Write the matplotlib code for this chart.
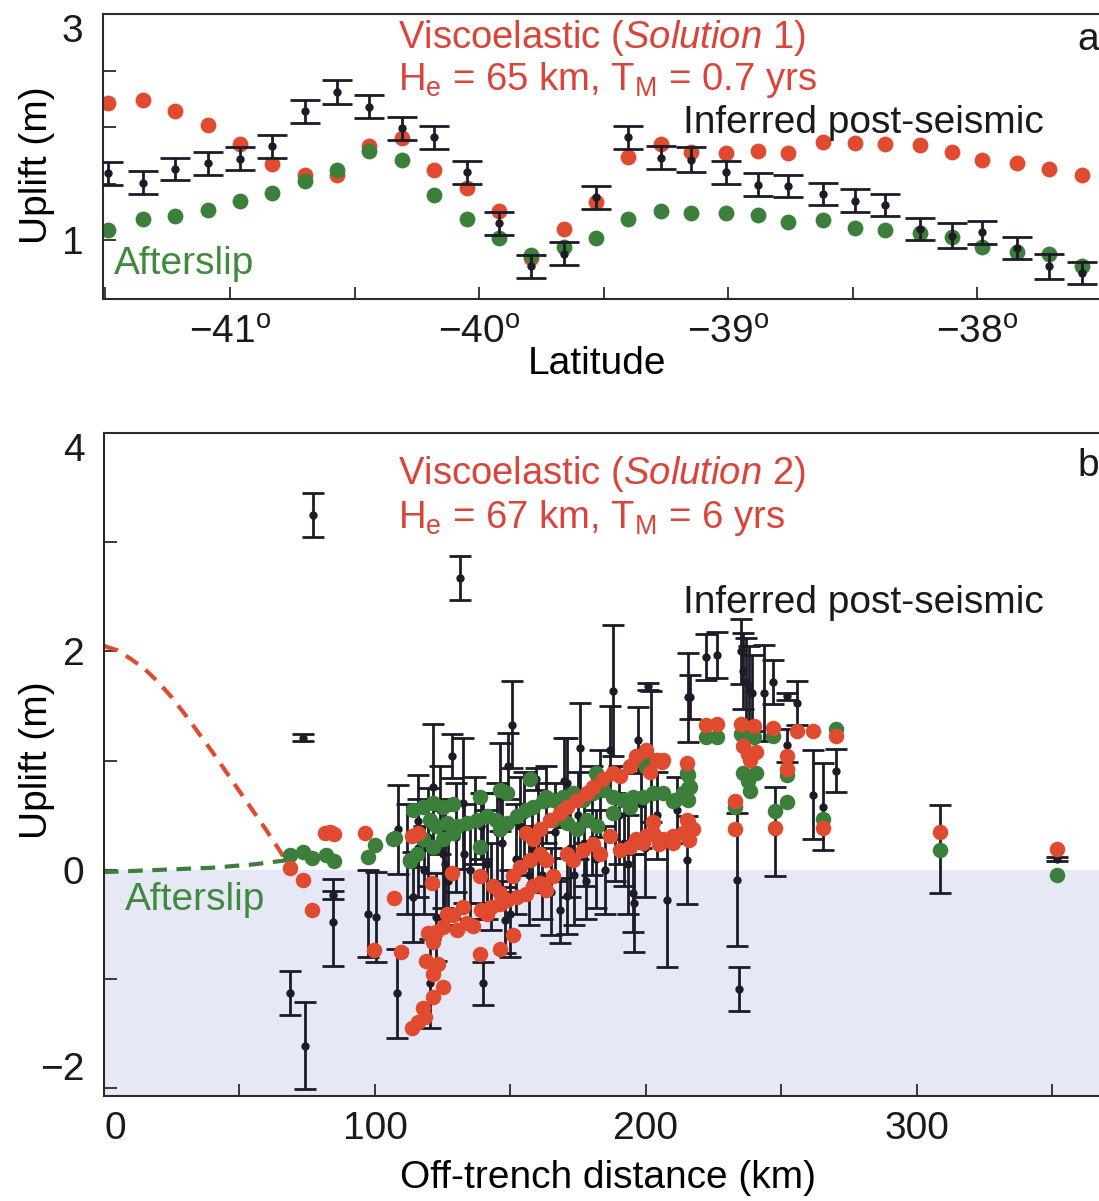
import numpy as np
import matplotlib
import matplotlib.pyplot as plt
from matplotlib import font_manager

# fonts: narrow Helvetica look if available
names = {f.name for f in font_manager.fontManager.ttflist}
fam = 'Liberation Sans Narrow' if 'Liberation Sans Narrow' in names else 'Liberation Sans'
plt.rcParams['font.family'] = [fam, 'DejaVu Sans']
plt.rcParams['mathtext.fontset'] = 'custom'
plt.rcParams['mathtext.rm'] = fam
plt.rcParams['mathtext.it'] = fam + ':italic'

RED = '#e04a2f'
GREEN = '#3b7f3a'
BLACK = '#1c1c28'
TRED = '#d9453a'
TGREEN = '#3f8a3c'

# ---------------- panel a data ----------------
lat = [-41.49, -41.35, -41.22, -41.09, -40.96, -40.83, -40.70, -40.57, -40.44, -40.31,
       -40.18, -40.05, -39.92, -39.79, -39.66, -39.53, -39.40, -39.27, -39.15, -39.01,
       -38.88, -38.76, -38.62, -38.49, -38.37, -38.23, -38.10, -37.98, -37.84, -37.71, -37.58]
visco_a = [2.21, 2.24, 2.14, 2.02, 1.85, 1.67, 1.58, 1.58, 1.83, 1.90,
           1.62, 1.46, 1.26, 0.84, 1.10, 1.34, 1.74, 1.85, 1.78, 1.77,
           1.79, 1.77, 1.87, 1.86, 1.85, 1.84, 1.78, 1.71, 1.68, 1.63, 1.58]
after_a = [1.09, 1.19, 1.21, 1.27, 1.35, 1.42, 1.52, 1.62, 1.79, 1.71,
           1.40, 1.19, 1.02, 0.87, 0.94, 1.02, 1.19, 1.26, 1.24, 1.24,
           1.22, 1.16, 1.18, 1.11, 1.09, 1.06, 1.03, 0.94, 0.90, 0.88, 0.77]
obs_a = [1.59, 1.51, 1.63, 1.68, 1.72, 1.83, 2.14, 2.31, 2.18, 1.99,
         1.91, 1.60, 1.15, 0.77, 0.88, 1.38, 1.91, 1.73, 1.71, 1.60,
         1.49, 1.48, 1.41, 1.35, 1.31, 1.10, 1.04, 1.07, 0.93, 0.77, 0.71]
err_a = [0.10, 0.10, 0.10, 0.10, 0.10, 0.10, 0.10, 0.11, 0.10, 0.10,
         0.10, 0.10, 0.10, 0.10, 0.10, 0.10, 0.10, 0.10, 0.11, 0.10,
         0.10, 0.10, 0.10, 0.10, 0.10, 0.10, 0.11, 0.10, 0.10, 0.11, 0.10]

# ---------------- panel b data ----------------
visco_km = [68.6, 73.4, 76.8, 81.5, 83.5, 85.0, 96.5, 99.5, 107.0, 109.5, 113.5, 116.0, 120.9, 128.3,
            138.7, 138.7, 146.1, 151.0, 163.3,
            113.5, 116.0, 118.4, 117.8, 121.5, 125.2, 119.0, 123.3, 121.5, 119.7, 122.7, 121.5, 125.2,
            126.4, 128.9, 130.1, 132.6, 133.8, 136.3, 139.3, 141.2, 143.0, 146.1, 148.6, 152.3, 155.9,
            158.4, 160.9, 163.3, 165.8, 143.6, 146.1, 151.0, 153.5, 157.2, 160.9, 158.4, 155.9, 160.9,
            164.5, 168.2, 170.7, 174.4, 178.1, 180.5, 184.2, 187.9, 190.4, 194.1, 196.5, 200.2, 203.9,
            201.5, 206.4,
            170.7, 173.2, 176.9, 180.5, 183.0, 186.7, 190.4, 194.1, 196.5, 200.2, 202.7, 206.4, 210.1,
            213.8, 217.4, 215.0, 215.0,
            205.8, 215.5, 202.7, 199.0, 205.0, 210.0, 216.0, 222.0, 226.4, 235.0, 240.0, 247.0, 255.6,
            261.6, 270.0, 236.0, 237.5, 238.5, 240.6, 233.0, 233.0, 247.6, 252.0, 252.0, 265.4, 308.5, 351.7]
visco_up = [0.02, -0.09, -0.37, 0.34, 0.35, 0.33, 0.34, -0.73, -0.26, -0.75, 0.31, 0.34, -0.12, -0.03,
            -0.06, -0.77, -0.72, -0.60, 0.09,
            -1.45, -1.39, -1.35, -1.26, -1.16, -1.07, -0.83, -0.86, -0.95, -0.58, -0.57, -0.66, -0.52,
            -0.40, -0.41, -0.55, -0.34, -0.49, -0.51, -0.37, -0.40, -0.34, -0.31, -0.28, -0.25, -0.22,
            -0.15, -0.12, -0.18, -0.06, -0.15, -0.21, -0.06, 0.03, 0.09, 0.15, 0.28, 0.34, 0.37,
            0.46, 0.52, 0.58, 0.64, 0.70, 0.76, 0.83, 0.89, 0.86, 0.95, 1.04, 1.10, 1.01,
            0.90, 1.01,
            0.15, 0.09, 0.18, 0.24, 0.15, 0.31, 0.18, 0.21, 0.28, 0.31, 0.34, 0.28, 0.31,
            0.34, 0.37, 0.46, 0.98,
            0.99, 0.44, 0.44, 0.25, 0.24, 0.25, 0.27, 1.33, 1.34, 1.34, 1.32, 1.30, 1.27,
            1.27, 1.23, 1.13, 1.06, 1.01, 1.08, 0.63, 0.37, 0.38, 1.04, 0.92, 0.38, 0.35, 0.19]

after_km = [68.8, 73.4, 76.6, 82.0, 85.0, 97.4, 100.0, 107.4, 113.0,
            114.1, 117.8, 121.5, 125.2, 128.9, 120.3, 122.7, 126.4, 130.1, 133.8, 137.5, 141.2, 144.8,
            148.6, 152.3, 155.9, 158.4, 162.1, 165.8, 169.5, 173.2, 176.9, 180.5, 184.2, 187.9, 191.6,
            195.3, 199.0, 202.7, 206.4, 210.1, 213.8, 216.2, 215.0, 117.8, 121.5, 125.2, 128.9, 138.7,
            146.1, 165.8, 170.7, 174.4, 178.1, 182.0, 188.0, 194.0, 196.5, 200.2, 138.7, 146.1, 148.6,
            157.2, 163.3, 181.7, 200.2, 112.9, 115.4, 106.7,
            215.5, 215.5, 215.5, 210.7, 222.0, 226.4, 235.0, 240.0, 247.0, 270.0, 236.0, 237.5, 238.5,
            240.6, 233.0, 247.6, 252.0, 252.0, 265.4, 308.5, 351.7]
after_up = [0.14, 0.16, 0.11, 0.14, 0.08, 0.12, 0.23, 0.29, 0.08,
            0.55, 0.58, 0.61, 0.58, 0.60, 0.46, 0.40, 0.43, 0.40, 0.43, 0.46, 0.49, 0.46,
            0.43, 0.49, 0.55, 0.58, 0.63, 0.64, 0.67, 0.70, 0.64, 0.70, 0.73, 0.67, 0.64,
            0.67, 0.67, 0.70, 0.70, 0.63, 0.70, 0.76, 0.89, 0.28, 0.21, 0.28, 0.34, 0.21,
            0.37, 0.46, 0.43, 0.37, 0.46, 0.40, 0.52, 0.58, 1.01, 1.07, 0.67, 0.73, 0.70,
            0.83, 0.67, 0.89, 0.94, 0.09, 0.15, 0.28,
            0.87, 0.75, 0.64, 0.64, 1.22, 1.22, 1.24, 1.22, 1.23, 1.29, 0.89, 0.81, 0.72,
            0.89, 0.58, 0.54, 0.62, 0.87, 0.47, 0.18, -0.05]

obs_km = [73.4, 77.1, 131.4, 68.6, 74.2, 84.5, 84.5, 97.4, 100.4, 108.0, 140.0, 120.3,
          108.6, 114.1, 121.5, 122.7, 128.3, 132.6, 146.1, 149.2, 150.4, 148.0, 149.8, 159.6,
          170.7, 175.6, 168.2, 170.7, 186.7, 187.9, 197.1, 200.8, 195.3, 207.6, 215.6, 215.0,
          211.3, 202.0, 169.7,
          112.0, 116.0, 118.0, 125.0, 127.0, 130.0, 135.0, 137.0, 140.0, 143.0, 145.0, 152.0,
          155.0, 157.0, 160.0, 163.0, 165.0, 172.0, 175.0, 178.0, 180.0, 183.0, 185.0, 190.0,
          192.0, 198.0, 204.0,
          116.0, 119.5, 124.0, 126.0, 133.0, 139.0, 141.5, 147.0, 153.5, 158.0, 161.5, 166.5,
          173.5, 177.0, 181.5, 188.5, 193.5, 199.5,
          216.2, 222.0, 226.4, 235.0, 236.0, 237.0, 238.0, 239.0, 243.5, 247.0, 252.0, 255.6,
          252.0, 261.5, 265.4, 270.0, 247.6, 233.6, 234.3, 308.5, 351.7, 195.6]
obs_up = [1.21, 3.25, 2.67, -1.13, -1.61, -0.48, -0.23, -0.40, -0.43, -1.13, -1.04, -1.04,
          0.37, -0.25, 0.76, -0.43, 1.04, 0.61, 0.76, 0.95, 1.33, -0.46, -0.40, 0.83,
          0.80, 1.12, -0.37, -0.24, 1.10, 1.64, 1.19, 1.68, -0.21, -0.28, 1.58, 0.09,
          0.55, 1.04, 0.81,
          0.10, 0.20, 0.00, 0.15, -0.10, 0.30, 0.00, 0.45, 0.20, -0.15, 0.35, 0.10,
          0.50, -0.05, 0.30, 0.60, -0.20, 0.20, 0.50, -0.10, 0.45, 0.70, 0.00, 0.50,
          0.25, 0.60, 0.50,
          0.45, 0.30, 0.55, 0.05, 0.15, 0.40, 0.05, 0.25, 0.40, 0.20, -0.05, 0.35,
          -0.05, 0.25, 0.10, 0.30, 0.05, 0.20,
          1.58, 1.95, 1.97, 2.00, 1.82, 1.72, 1.65, 1.62, 1.62, 1.72, 1.59, 1.53,
          1.14, 0.69, 0.58, 0.91, 0.35, -0.09, -1.09, 0.19, 0.10, -0.30]
obs_err = [0.03, 0.20, 0.20, 0.20, 0.40, 0.40, 0.04, 0.40, 0.41, 0.41, 0.20, 0.41,
           0.41, 0.41, 0.58, 0.40, 0.20, 0.60, 0.40, 0.30, 0.40, 0.30, 0.40, 0.10,
           0.41, 0.41, 0.30, 0.35, 0.40, 0.60, 0.30, 0.03, 0.36, 0.61, 0.41, 0.40,
           0.30, 0.60, 0.40,
           0.50, 0.45, 0.40, 0.50, 0.40, 0.50, 0.45, 0.40, 0.50, 0.40, 0.45, 0.50,
           0.40, 0.45, 0.50, 0.35, 0.40, 0.45, 0.40, 0.35, 0.50, 0.40, 0.40, 0.45,
           0.40, 0.40, 0.40,
           0.42, 0.45, 0.40, 0.50, 0.45, 0.30, 0.50, 0.45, 0.45, 0.40, 0.40, 0.45,
           0.45, 0.40, 0.45, 0.40, 0.45, 0.45,
           0.20, 0.21, 0.21, 0.30, 0.35, 0.40, 0.40, 0.35, 0.44, 0.20, 0.03, 0.20,
           0.15, 0.41, 0.40, 0.20, 0.41, 0.61, 0.20, 0.40, 0.02, 0.45]

# model curves near the trench (dashed)
visco_curve_km = [0, 5, 10, 15, 20, 25, 30, 35, 40, 45, 50, 55, 60, 65, 68]
visco_curve_up = [2.05, 2.01, 1.93, 1.84, 1.72, 1.58, 1.42, 1.25, 1.08, 0.90, 0.72, 0.54, 0.36, 0.17, 0.05]
after_curve_km = [0, 20, 40, 55, 68]
after_curve_up = [-0.02, 0.00, 0.02, 0.05, 0.09]

W, H = 1099, 1201
fig = plt.figure(figsize=(W / 100, H / 100), dpi=100)


def fx(x):
    return x / W


def fy(y):
    return 1 - y / H


def style_axes(ax):
    for s in ax.spines.values():
        s.set_linewidth(1.5)
        s.set_color('#2a2a2a')
    ax.tick_params(which='both', direction='in', width=1.3, color='#2a2a2a',
                   labelsize=28, labelcolor='#1a1a1a')
    ax.tick_params(axis='x', pad=11)
    ax.tick_params(axis='y', pad=14)
    ax.tick_params(which='major', length=9)
    ax.tick_params(which='minor', length=9)


# ---------------- panel a ----------------
ax1 = fig.add_axes([fx(103), fy(299), fx(1114) - fx(103), fy(14) - fy(299)])
ax1.scatter(lat, visco_a, s=130, color=RED, linewidths=0, zorder=2)
ax1.scatter(lat, after_a, s=130, color=GREEN, linewidths=0, zorder=2)
ax1.errorbar(lat, obs_a, yerr=err_a, fmt='o', ms=5, color=BLACK, ecolor=BLACK,
             elinewidth=2, capsize=11, capthick=2, zorder=3)
ax1.set_xlim(-41.51, -37.45)
ax1.set_ylim(0.48, 3.0)
ax1.set_xticks([-41, -40, -39, -38])
ax1.set_xticklabels(['\u221241$^{\\mathrm{o}}$', '\u221240$^{\\mathrm{o}}$',
                     '\u221239$^{\\mathrm{o}}$', '\u221238$^{\\mathrm{o}}$'])
ax1.set_xticks([-41.5, -40.5, -39.5, -38.5], minor=True)
ax1.set_yticks([1, 3])
ax1.set_yticks([1.5, 2, 2.5], minor=True)
style_axes(ax1)
ax1.get_yticklabels()[-1].set_va('top')
ax1.set_xlabel('Latitude', fontsize=28)
ax1.xaxis.set_label_coords(0.489, -0.165)
ax1.xaxis.label.set_va('top')
ax1.set_ylabel('Uplift (m)', fontsize=28)
ax1.yaxis.set_label_coords(-0.047, 0.47)

# ---------------- panel b ----------------
ax2 = fig.add_axes([fx(104), fy(1096), fx(1112) - fx(104), fy(433) - fy(1096)])
ax2.axhspan(-2.07, 0, color='#e6e8f6', lw=0, zorder=0)
ax2.plot(visco_curve_km, visco_curve_up, ls=(0, (3.5, 2.3)), lw=3, color=RED, zorder=2)
ax2.plot(after_curve_km, after_curve_up, ls=(0, (3.5, 2.3)), lw=3, color=GREEN, zorder=2)
ax2.errorbar(obs_km, obs_up, yerr=obs_err, fmt='o', ms=5, color=BLACK, ecolor=BLACK,
             elinewidth=2, capsize=8, capthick=2, zorder=3)
ax2.scatter(after_km, after_up, s=125, color=GREEN, linewidths=0, zorder=4)
ax2.scatter(visco_km, visco_up, s=125, color=RED, linewidths=0, zorder=5)
ax2.set_xlim(0, 372)
ax2.set_ylim(-2.07, 4.0)
ax2.set_xticks([0, 100, 200, 300])
ax2.set_xticks([50, 150, 250, 350], minor=True)
ax2.set_yticks([-2, 0, 2, 4])
ax2.set_yticklabels(['\u22122', '0', '2', '4'])
ax2.set_yticks([-1, 1, 3], minor=True)
style_axes(ax2)
ax2.get_yticklabels()[-1].set_va('top')
ax2.get_yticklabels()[0].set_va('bottom')
ax2.get_xticklabels()[0].set_ha('left')
ax2.set_xlabel('Off-trench distance (km)', fontsize=28, labelpad=9)
ax2.set_ylabel('Uplift (m)', fontsize=28)
ax2.yaxis.set_label_coords(-0.049, 0.507)

# ---------------- annotations ----------------
fig.text(fx(398), fy(38), 'Viscoelastic ($\\mathit{Solution\\ 1}$)', color=TRED,
         fontsize=27.5, va='center', ha='left')
fig.text(fx(398), fy(80), 'H$_{\\mathrm{e}}$ = 65 km, T$_{\\mathrm{M}}$ = 0.7 yrs', color=TRED,
         fontsize=27.5, va='center', ha='left')
fig.text(fx(683), fy(123), 'Inferred post-seismic', color='#1a1a1a', fontsize=28,
         va='center', ha='left')
fig.text(fx(1077), fy(40), 'a', color='#1a1a1a', fontsize=28, va='center', ha='left')
fig.text(fx(114), fy(264), 'Afterslip', color=TGREEN, fontsize=28, va='center', ha='left')

fig.text(fx(398), fy(474), 'Viscoelastic ($\\mathit{Solution\\ 2}$)', color=TRED,
         fontsize=27.5, va='center', ha='left')
fig.text(fx(398), fy(518), 'H$_{\\mathrm{e}}$ = 67 km, T$_{\\mathrm{M}}$ = 6 yrs', color=TRED,
         fontsize=27.5, va='center', ha='left')
fig.text(fx(683), fy(603), 'Inferred post-seismic', color='#1a1a1a', fontsize=28,
         va='center', ha='left')
fig.text(fx(1077), fy(466), 'b', color='#1a1a1a', fontsize=28, va='center', ha='left')
fig.text(fx(125), fy(900), 'Afterslip', color=TGREEN, fontsize=28, va='center', ha='left')

fig.savefig('out.png', dpi=100)
